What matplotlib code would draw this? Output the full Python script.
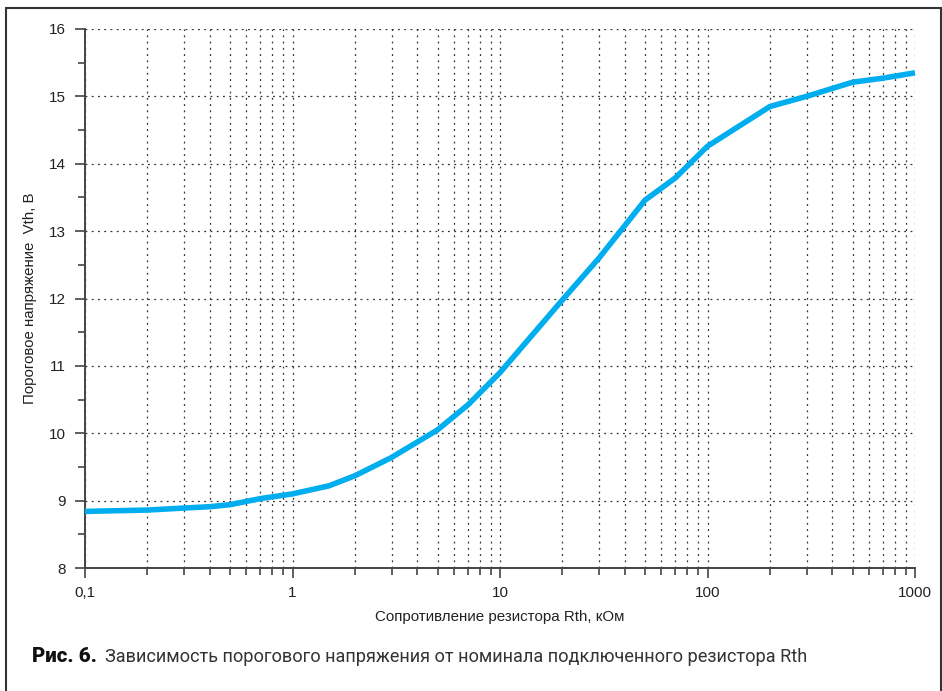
import matplotlib
matplotlib.use("Agg")
import matplotlib.pyplot as plt
from matplotlib.ticker import FixedLocator, NullFormatter, LogLocator
from matplotlib.patches import Rectangle

# data
r_kohm = [0.1, 0.2, 0.3, 0.4, 0.5, 0.7, 1, 1.5, 2, 3, 5, 7, 10, 20, 30, 50, 70, 100, 200, 300, 500, 700, 1000]
vth = [8.84, 8.86, 8.89, 8.91, 8.94, 9.03, 9.10, 9.22, 9.37, 9.64, 10.05, 10.42, 10.90, 11.98, 12.60, 13.46, 13.79, 14.26, 14.85, 15.0, 15.21, 15.27, 15.35]
x_ticks = [0.1, 1, 10, 100, 1000]
x_labels = ["0,1", "1", "10", "100", "1000"]
y_ticks = [8, 9, 10, 11, 12, 13, 14, 15, 16]

plt.rcParams['font.family'] = ['Liberation Sans', 'DejaVu Sans']

fig = plt.figure(figsize=(9.42, 6.91), dpi=100)
ax = fig.add_axes([85/942, 1-568/691, 830/942, 539/691])

ax.set_xscale('log')
ax.set_xlim(0.1, 1000)
ax.set_ylim(8, 16)

axc = '#444444'
ax.plot(r_kohm, vth, color='#00AEEF', lw=4, solid_capstyle='butt', zorder=3, clip_on=False)

ax.xaxis.set_major_locator(FixedLocator(x_ticks))
ax.set_xticklabels(x_labels)
ax.xaxis.set_minor_locator(LogLocator(base=10, subs=[2, 3, 4, 5, 6, 7, 8, 9]))
ax.xaxis.set_minor_formatter(NullFormatter())
ax.yaxis.set_major_locator(FixedLocator(y_ticks))
ax.yaxis.set_minor_locator(FixedLocator([v + 0.5 for v in y_ticks[:-1]]))

ax.tick_params(axis='both', which='major', direction='out', length=7, width=1.2, color=axc,
               labelsize=11, labelcolor='#222222')
ax.tick_params(axis='both', which='minor', direction='out', length=5, width=1.2, color=axc)
ax.tick_params(axis='x', which='major', pad=6)
ax.tick_params(axis='y', which='major', pad=7)

for s in ['top', 'right']:
    ax.spines[s].set_visible(False)
for s in ['left', 'bottom']:
    ax.spines[s].set_color(axc)
    ax.spines[s].set_linewidth(1.4)

gstyle = dict(color='#333333', lw=0.9, linestyle=(0, (1.5, 3.5)))
ax.grid(True, which='major', axis='both', **gstyle)
ax.grid(True, which='minor', axis='x', **gstyle)
ax.set_axisbelow(True)

ax.set_xlabel("Сопротивление резистора Rth, кОм", fontsize=10.9, color='#222222', labelpad=7)
ax.set_ylabel("Пороговое напряжение  Vth, В", fontsize=10.8, color='#222222', labelpad=8)

# caption
fig.text(32/942, 1-657/691, "Рис. 6.", fontsize=14.8, fontweight='heavy', family=['Roboto', 'DejaVu Sans'],
         color='#111111', va='center', ha='left')
fig.text(105/942, 1-657/691, "Зависимость порогового напряжения от номинала подключенного резистора Rth",
         fontsize=13.1, family=['Roboto', 'DejaVu Sans'], color='#333333', va='center', ha='left')

# frame
fig.patches.append(Rectangle((6/942, -0.01), 935/942, 1 - 8/691 + 0.01, transform=fig.transFigure,
                             fill=False, edgecolor='#333333', lw=1.5))

fig.savefig("out.png", dpi=100)
